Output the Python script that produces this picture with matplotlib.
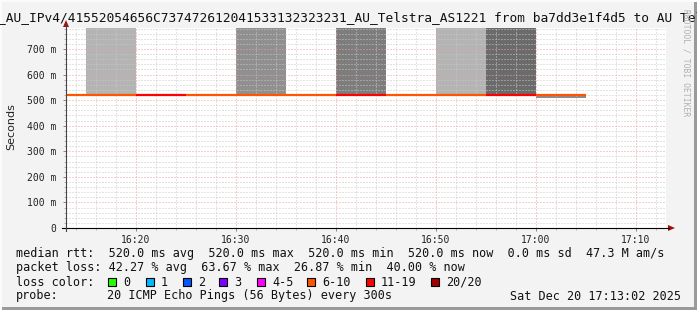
import matplotlib
matplotlib.use("Agg")
import matplotlib.pyplot as plt
from matplotlib.patches import Rectangle, Polygon
from matplotlib.lines import Line2D

# ---------------- data ----------------
interval_start = ["16:10", "16:15", "16:20", "16:25", "16:30", "16:35",
                  "16:40", "16:45", "16:50", "16:55", "17:00"]
median_ms = [520, 520, 520, 520, 520, 520, 520, 520, 520, 520, 520]
loss_pct = [40.0, 38.4, 62.0, 30.0, 36.0, 26.87, 63.67, 38.0, 32.0, 58.0, 40.0]
smoke_low_ms = [520, 520, 520, 520, 520, 520, 520, 520, 520, 520, 508]
smoke_high_ms = [520, 2000, 520, 520, 2000, 520, 2000, 520, 2000, 2000, 520]
smoke_gray = ["#ffffff", "#b4b4b4", "#ffffff", "#ffffff", "#909090", "#ffffff",
              "#7d7d7d", "#ffffff", "#b4b4b4", "#6b6b6b", "#8c8c8c"]

y_ticks = [0, 100, 200, 300, 400, 500, 600, 700]
y_tick_labels = ["0", "100 m", "200 m", "300 m", "400 m", "500 m", "600 m", "700 m"]
x_ticks = ["16:20", "16:30", "16:40", "16:50", "17:00", "17:10"]

loss_bins = [0, 1, 2, 3, 5, 10, 19, 20]
loss_labels = ["0", "1", "2", "3", "4-5", "6-10", "11-19", "20/20"]
loss_colors = ["#26ff00", "#00b8ff", "#0059ff", "#7e00ff", "#ff00ff",
               "#ff5500", "#ff0000", "#a10000"]

pings = 20
step_min = 5
start_time = "16:13:02"
end_time = "17:13:02"

rtt_stats = {"avg": 520.0, "max": 520.0, "min": 520.0, "now": 520.0, "sd": 0.0}
amps = "47.3 M"
loss_stats = {"avg": 42.27, "max": 63.67, "min": 26.87, "now": 40.00}
title = "_AU_IPv4/41552054656C737472612041533132323231_AU_Telstra_AS1221 from ba7dd3e1f4d5 to AU Telstra AS1221"
probe_text = "20 ICMP Echo Pings (56 Bytes) every 300s"
date_text = "Sat Dec 20 17:13:02 2025"


def tmin(s):
    parts = [int(p) for p in s.split(":")]
    m = parts[0] * 60 + parts[1]
    if len(parts) > 2:
        m += parts[2] / 60.0
    return m


def loss_color(pct):
    lost = pct / 100.0 * pings
    for b, c in zip(loss_bins, loss_colors):
        if lost <= b:
            return c
    return loss_colors[-1]


# ---------------- figure ----------------
W, H = 697, 310
BG = "#f3f3f3"
fig = plt.figure(figsize=(W / 100, H / 100), dpi=100, facecolor=BG)


def fx(px):
    return px / W


def fy(py):
    return 1 - py / H


MONO = "DejaVu Sans Mono"

ax_l, ax_r, ax_t, ax_b = 66, 666, 28, 228
ax = fig.add_axes([fx(ax_l), fy(ax_b), (ax_r - ax_l) / W, (ax_b - ax_t) / H])
ax.set_facecolor("white")
t0, t1 = tmin(start_time), tmin(end_time)
ax.set_xlim(t0, t1)
ax.set_ylim(0, 782)
for s in ax.spines.values():
    s.set_visible(False)

# smoke
xs = [tmin(s) for s in interval_start]
ax.bar(xs, [h - l for h, l in zip(smoke_high_ms, smoke_low_ms)], bottom=smoke_low_ms,
       width=step_min, align="edge", color=smoke_gray, linewidth=0, zorder=1)

# grid
dot = (0, (1, 2))
for v in range(0, 782, 20):
    if v % 100 == 0:
        continue
    ax.axhline(v, color="#c8c8c8", lw=0.72, ls=dot, zorder=2)
for v in range(int(t0) - 1, int(t1) + 1):
    if v % 2 == 0 and v % 10 != 0:
        ax.axvline(v, color="#c8c8c8", lw=0.72, ls=dot, zorder=2)
for v in y_ticks[1:]:
    ax.axhline(v, color="#e8a0a0", lw=0.72, ls=dot, zorder=2)
for v in x_ticks:
    ax.axvline(tmin(v), color="#e8a0a0", lw=0.72, ls=dot, zorder=2)

# median line
for x, m, lp in zip(xs, median_ms, loss_pct):
    ax.hlines(m, x, x + step_min, colors=loss_color(lp), lw=1.6, zorder=3)

# ticks
ax.set_yticks(y_ticks)
ax.set_yticklabels(y_tick_labels)
ax.set_yticks(list(range(0, 782, 20)), minor=True)
ax.set_xticks([tmin(v) for v in x_ticks])
ax.set_xticklabels(x_ticks)
ax.set_xticks([v for v in range(int(t0) + 1, int(t1) + 1) if v % 2 == 0], minor=True)
ax.tick_params(axis="both", which="major", labelsize=7, length=2.2, width=0.6,
               color="#777777", labelcolor="#222222")
ax.tick_params(axis="both", which="minor", length=1.5, width=0.5, color="#999999")
ax.tick_params(axis="y", which="major", pad=4.5)
ax.tick_params(axis="x", which="major", pad=3)
for lab in ax.get_xticklabels() + ax.get_yticklabels():
    lab.set_family(MONO)

# axis lines and arrows
fig.add_artist(Line2D([fx(62), fx(669)], [fy(228), fy(228)], color="black", lw=0.8))
fig.add_artist(Line2D([fx(66), fx(66)], [fy(231), fy(24)], color="#444444", lw=0.8))
fig.add_artist(Polygon([[fx(63), fy(27)], [fx(69), fy(27)], [fx(66), fy(20)]],
                       closed=True, color="#a01010", lw=0))
fig.add_artist(Polygon([[fx(668), fy(225)], [fx(668), fy(231)], [fx(675), fy(228)]],
                       closed=True, color="#a01010", lw=0))

# labels
fig.text(fx(11), fy(127), "Seconds", rotation=90, ha="center", va="center",
         fontsize=8, color="#222222", family="DejaVu Sans")
fig.text(fx(-2.5), fy(17.5), title, ha="left", va="center", fontsize=9.25,
         family=MONO, color="#111111")
fig.text(fx(686), fy(9), "RRDTOOL / TOBI OETIKER", rotation=-90, ha="center", va="top",
         fontsize=5.8, family=MONO, color="#b0b0b0")

# legend
FS = 8.5
row_y = [254, 268, 282, 296]
line1 = ("median rtt:  {avg:.1f} ms avg  {max:.1f} ms max  {min:.1f} ms min  "
         "{now:.1f} ms now  {sd:.1f} ms sd  ").format(**rtt_stats) + amps + " am/s"
line2 = ("packet loss: {avg:.2f} % avg  {max:.2f} % max  {min:.2f} % min  "
         "{now:.2f} % now").format(**loss_stats)
fig.text(fx(16), fy(row_y[0]), line1, ha="left", va="center", fontsize=FS, family=MONO, color="#111111")
fig.text(fx(16), fy(row_y[1]), line2, ha="left", va="center", fontsize=FS, family=MONO, color="#111111")
fig.text(fx(16), fy(row_y[2]), "loss color:", ha="left", va="center", fontsize=FS, family=MONO, color="#111111")
sq_x = [108, 146, 183, 219, 257, 307, 366, 431]
sq = 8
for x, lab, c in zip(sq_x, loss_labels, loss_colors):
    fig.add_artist(Rectangle((fx(x), fy(row_y[2] + sq / 2)), sq / W, sq / H,
                             facecolor=c, edgecolor="black", lw=0.8))
    fig.text(fx(x + 15), fy(row_y[2]), lab, ha="left", va="center", fontsize=FS,
             family=MONO, color="#111111")
fig.text(fx(16), fy(row_y[3]), "probe:", ha="left", va="center", fontsize=FS, family=MONO, color="#111111")
fig.text(fx(107), fy(row_y[3]), probe_text, ha="left", va="center", fontsize=FS, family=MONO, color="#111111")
fig.text(fx(681), fy(row_y[3]), date_text, ha="right", va="center", fontsize=FS, family=MONO, color="#111111")

# 3D border
fig.add_artist(Rectangle((fx(694), 0), 3 / W, 1, transform=fig.transFigure,
                         facecolor="#9a9a9a", lw=0))
fig.add_artist(Rectangle((0, 0), 1, 3 / H, transform=fig.transFigure,
                         facecolor="#9a9a9a", lw=0))
fig.add_artist(Rectangle((0, fy(2)), 1, 2 / H, transform=fig.transFigure,
                         facecolor="#fbfbfb", lw=0))
fig.add_artist(Rectangle((0, 0), 2 / W, 1, transform=fig.transFigure,
                         facecolor="#fbfbfb", lw=0))

fig.savefig("out.png", dpi=100, facecolor=BG)
